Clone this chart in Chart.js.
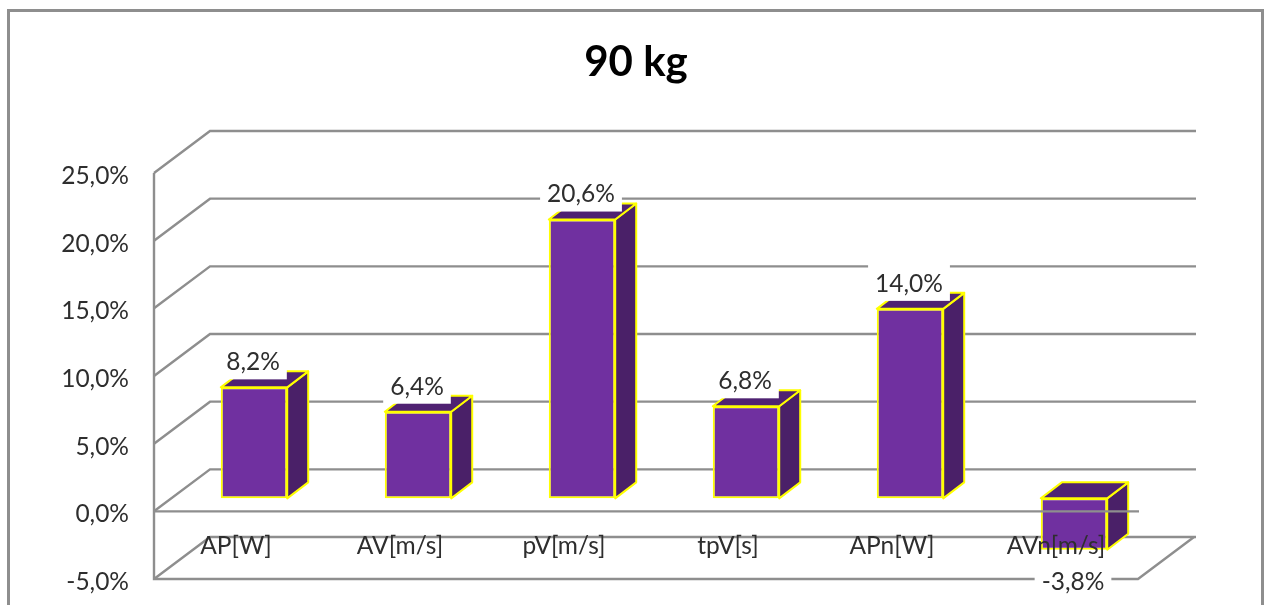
<!DOCTYPE html>
<html><head><meta charset="utf-8">
<style>html,body{margin:0;padding:0;background:#fff;overflow:hidden}#wrap{position:relative;width:1266px;height:605px}</style>
<script src="https://cdn.jsdelivr.net/npm/chart.js@4"></script></head>
<body><div id="wrap"><canvas id="c" width="1266" height="605"></canvas></div>
<script>
const chartTitle = '90 kg';
const categories = ['AP[W]','AV[m/s]','pV[m/s]','tpV[s]','APn[W]','AVn[m/s]'];
const values = [8.2,6.4,20.6,6.8,14.0,-3.8];
const axisMin = -5, axisMax = 25, axisStep = 5;

const FONT = 'Lato, Carlito, sans-serif';
const TEXT = '#2e2e2e', LINE = '#8e8e8e';
const FACE = '#7030A0', SIDE = '#4a2068', TOP = '#4f2272', EDGE = '#FFFF00';
const WALL = {dx:56, dy:-42};       // depth of the plot box
const BAR_SHIFT = {dx:18, dy:-13};  // bars stand mid-way in the box
const BAR_DEPTH = {dx:21, dy:-16};
const fmt = v => v.toFixed(1).replace('.',',') + '%';

function poly(ctx, pts, fill, stroke, lw){
  ctx.beginPath();
  pts.forEach((p,i)=> i?ctx.lineTo(p[0],p[1]):ctx.moveTo(p[0],p[1]));
  ctx.closePath();
  if(fill){ctx.fillStyle=fill;ctx.fill();}
  if(stroke){ctx.strokeStyle=stroke;ctx.lineWidth=lw;ctx.lineJoin='round';ctx.stroke();}
}
function seg(ctx, pts){
  ctx.beginPath();
  pts.forEach((p,i)=> i?ctx.lineTo(p[0],p[1]):ctx.moveTo(p[0],p[1]));
  ctx.stroke();
}

const box3d = {
  id:'box3d',
  beforeDraw(chart){
    const ctx=chart.ctx;
    ctx.save();
    ctx.strokeStyle=LINE; ctx.lineWidth=3;
    ctx.strokeRect(8.5,10.5,1254,640);
    ctx.restore();
    // nudge the y tick labels down onto their tick positions
    chart.scales.y.getLabelItems().forEach(it=>{
      if(!it.nudged){ it.options.translation[1]+=3; it.nudged=true; }
    });
  },
  beforeDatasetsDraw(chart){
    const ctx=chart.ctx, y=chart.scales.y, a=chart.chartArea;
    ctx.save();
    ctx.strokeStyle=LINE; ctx.lineWidth=2.4;
    y.ticks.forEach(t=>{
      const p=y.getPixelForValue(t.value);
      seg(ctx,[[a.left,p],[a.left+WALL.dx,p+WALL.dy],[a.right+WALL.dx+2,p+WALL.dy]]);
    });
    const low=y.getPixelForValue(axisMin), high=y.getPixelForValue(axisMax);
    seg(ctx,[[a.left,high],[a.left,low],[a.right,low],[a.right+WALL.dx,low+WALL.dy]]);
    ctx.restore();
  },
  beforeDatasetDraw(chart,args){
    const ctx=chart.ctx;
    ctx.save();
    ctx.translate(BAR_SHIFT.dx,BAR_SHIFT.dy);
    args.meta.data.forEach(b=>{
      const l=b.x-b.width/2, r=b.x+b.width/2, t=Math.min(b.y,b.base), bt=Math.max(b.y,b.base);
      const dx=BAR_DEPTH.dx, dy=BAR_DEPTH.dy;
      poly(ctx,[[r,t],[r+dx,t+dy],[r+dx,bt+dy],[r,bt]],SIDE,EDGE,2);
      poly(ctx,[[l,t],[l+dx,t+dy],[r+dx,t+dy],[r,t]],TOP,EDGE,2);
    });
  },
  afterDatasetDraw(chart){
    chart.ctx.restore();
  },
  afterDatasetsDraw(chart){
    const ctx=chart.ctx, y=chart.scales.y, a=chart.chartArea;
    const zero=y.getPixelForValue(0);
    ctx.save();
    ctx.strokeStyle=LINE; ctx.lineWidth=2.4;
    seg(ctx,[[a.left,zero],[a.right+1,zero]]);
    ctx.font='24.5px '+FONT;
    ctx.textAlign='center'; ctx.textBaseline='middle';
    chart.getDatasetMeta(0).data.forEach((b,i)=>{
      const v=values[i], s=fmt(v), w=ctx.measureText(s).width;
      const cx=b.x+BAR_SHIFT.dx-1;
      const cy= v>=0 ? b.y+BAR_SHIFT.dy-25 : b.y+BAR_SHIFT.dy+32;
      ctx.fillStyle='#fff';
      ctx.fillRect(cx-w/2-7,cy-19,w+14,36);
      ctx.fillStyle=TEXT;
      ctx.fillText(s,cx,cy);
    });
    ctx.restore();
  }
};

function noAutoPad(s){ s.paddingTop=0; s.paddingBottom=0; s.paddingLeft=0; s.paddingRight=0; }

new Chart(document.getElementById('c'),{
  type:'bar',
  data:{labels:categories,datasets:[{
    data:values,backgroundColor:FACE,borderColor:EDGE,borderWidth:2,borderSkipped:false,
    barPercentage:0.405,categoryPercentage:1
  }]},
  options:{
    responsive:false,animation:false,
    layout:{padding:{left:6,right:0,top:0,bottom:26}},
    plugins:{
      legend:{display:false},tooltip:{enabled:false},
      title:{display:true,text:chartTitle,color:'#000',
        font:{family:FONT,size:42,weight:'bold',lineHeight:1.2},
        padding:{top:37,bottom:85.6}}
    },
    scales:{
      x:{
        grid:{display:false},border:{display:false},
        afterFit(s){s.height=0;noAutoPad(s);},
        ticks:{mirror:true,z:1,color:TEXT,font:{family:FONT,size:24.5},padding:18,maxRotation:0,autoSkip:false}
      },
      y:{
        min:axisMin,max:axisMax,
        grid:{display:false},border:{display:false},
        afterFit(s){s.width=148;noAutoPad(s);},
        ticks:{stepSize:axisStep,color:TEXT,font:{family:FONT,size:24.5},padding:17,callback:v=>fmt(v)}
      },
      yRight:{
        position:'right',min:axisMin,max:axisMax,
        grid:{display:false},border:{display:false},
        ticks:{display:false},
        afterFit(s){s.width=128;noAutoPad(s);}
      }
    }
  },
  plugins:[box3d]
});
</script></body></html>
